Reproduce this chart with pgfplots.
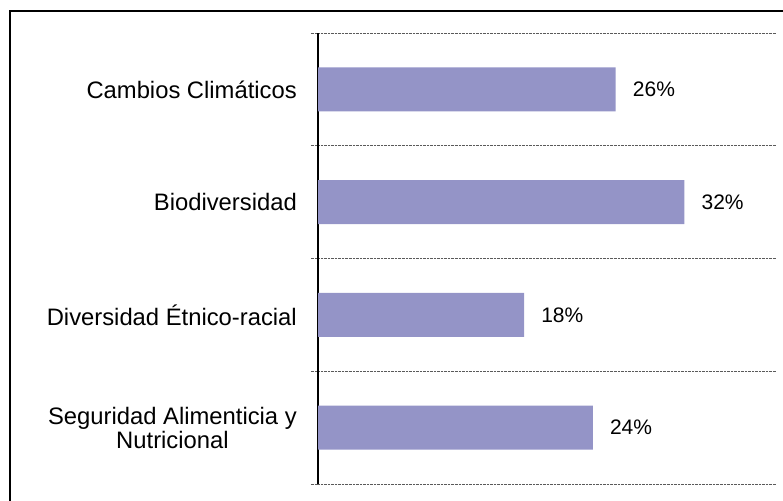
\documentclass[border=0pt]{standalone}
\usepackage{pgfplots}
\pgfplotsset{compat=1.18}
\usepackage{fontspec}
\setmainfont{Liberation Sans}
\definecolor{barcol}{RGB}{148,148,199}
\definecolor{gridcol}{RGB}{90,90,90}
\begin{document}
\begin{tikzpicture}
\useasboundingbox (0,0) rectangle (783bp,501bp);
\begin{scope}
\clip (0,0) rectangle (783bp,501bp);
\draw[line width=2.5bp, black] (10bp,-5bp) -- (10bp,490bp) -- (790bp,490bp);
\end{scope}
\begin{axis}[
  at={(318bp,17bp)}, anchor=south west,
  scale only axis, width=458bp, height=451bp,
  xbar, bar width=44bp,
  xmin=0, xmax=40, ymin=0.5, ymax=4.5,
  axis x line=none, axis y line*=left,
  y axis line style={black, line width=1.2bp},
  ytick={1,2,3,4},
  yticklabels={{Seguridad Alimenticia y\\Nutricional},{Diversidad Étnico-racial},{Biodiversidad},{Cambios Climáticos}},
  ytick pos=left,
  major tick length=0pt,
  minor ytick={0.5,1.5,2.5,3.5,4.5},
  minor tick length=7bp,
  tick align=outside,
  yminorgrids=true,
  minor grid style={densely dotted, gridcol, line width=0.8bp},
  minor tick style={densely dotted, gridcol, line width=0.8bp},
  yticklabel style={align=center, anchor=east, inner sep=0pt, xshift=-21bp,
    font=\fontsize{23.8bp}{24bp}\selectfont},
  /pgf/number format/assume math mode=true,
  point meta=x,
  nodes near coords={\pgfmathprintnumber{\pgfplotspointmeta}\%},
  nodes near coords style={anchor=west, inner sep=0pt, xshift=17bp,
    font=\fontsize{21bp}{24bp}\selectfont, black},
  clip=false,
]
\addplot[fill=barcol, draw=none] coordinates {(24,1) (18,2) (32,3) (26,4)};
\end{axis}
\end{tikzpicture}
\end{document}
